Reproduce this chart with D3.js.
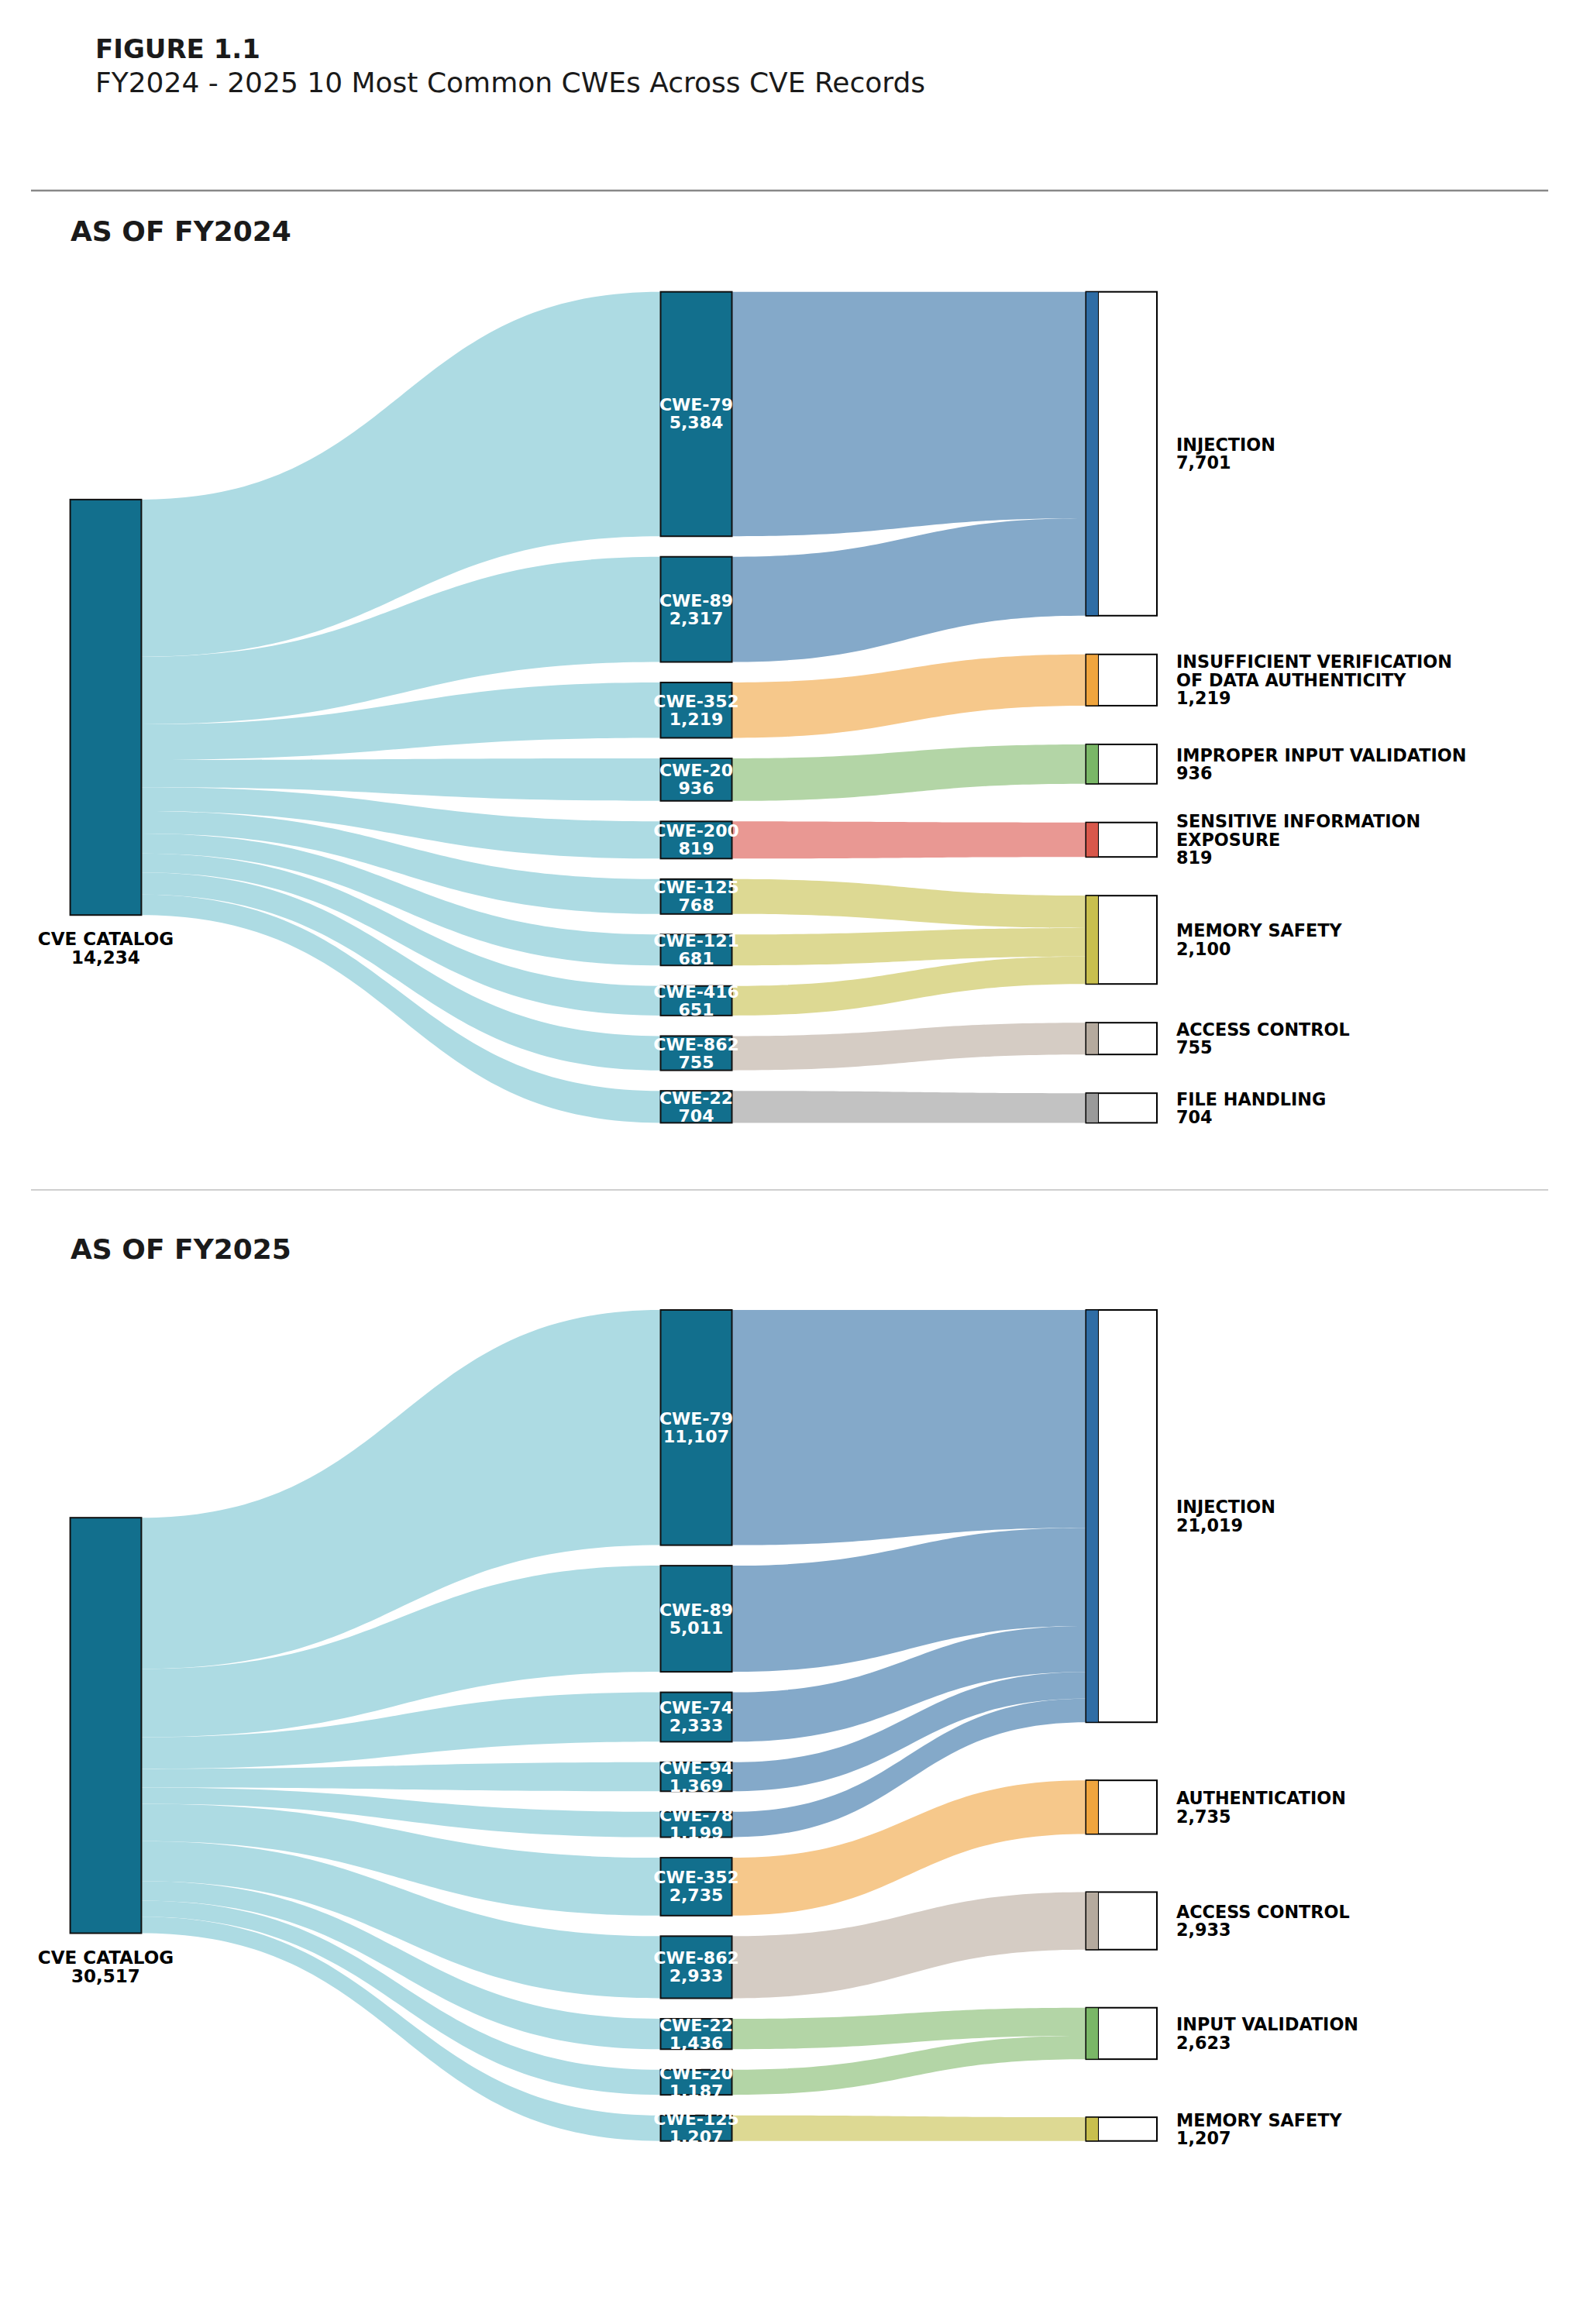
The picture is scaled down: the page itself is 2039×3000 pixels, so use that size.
<!DOCTYPE html>
<html>
<head>
<meta charset="utf-8">
<script src="https://cdn.jsdelivr.net/npm/d3@7/dist/d3.min.js"></script>
<style>
  body { margin: 0; background: #fff; }
  text { font-family: "DejaVu Sans", sans-serif; }
</style>
</head>
<body>
<div id="chart"></div>
<script>
// FY2024 data
const fy24Cwes = ["CWE-79", "CWE-89", "CWE-352", "CWE-20", "CWE-200", "CWE-125", "CWE-121", "CWE-416", "CWE-862", "CWE-22"];
const fy24Counts = [5384, 2317, 1219, 936, 819, 768, 681, 651, 755, 704];
const fy24Groups = ["INJECTION", "INJECTION", "INSUFFICIENT VERIFICATION OF DATA AUTHENTICITY",
  "IMPROPER INPUT VALIDATION", "SENSITIVE INFORMATION EXPOSURE", "MEMORY SAFETY", "MEMORY SAFETY",
  "MEMORY SAFETY", "ACCESS CONTROL", "FILE HANDLING"];

// FY2025 data
const fy25Cwes = ["CWE-79", "CWE-89", "CWE-74", "CWE-94", "CWE-78", "CWE-352", "CWE-862", "CWE-22", "CWE-20", "CWE-125"];
const fy25Counts = [11107, 5011, 2333, 1369, 1199, 2735, 2933, 1436, 1187, 1207];
const fy25Groups = ["INJECTION", "INJECTION", "INJECTION", "INJECTION", "INJECTION", "AUTHENTICATION",
  "ACCESS CONTROL", "INPUT VALIDATION", "INPUT VALIDATION", "MEMORY SAFETY"];

// colour per category: [link, node strip]
const groupColors = {
  "INJECTION": ["#84a9c9", "#2f6da5"],
  "INSUFFICIENT VERIFICATION OF DATA AUTHENTICITY": ["#f6c88b", "#f0a53e"],
  "AUTHENTICATION": ["#f6c88b", "#f0a53e"],
  "IMPROPER INPUT VALIDATION": ["#b3d5a6", "#7ab767"],
  "INPUT VALIDATION": ["#b3d5a6", "#7ab767"],
  "SENSITIVE INFORMATION EXPOSURE": ["#e99893", "#d8584b"],
  "MEMORY SAFETY": ["#ddd993", "#c8bf4e"],
  "ACCESS CONTROL": ["#d5ccc4", "#b5aa9e"],
  "FILE HANDLING": ["#c2c2c2", "#9a9a9a"]
};

const W = 2039, Hpage = 3000;
const svg = d3.select("#chart").append("svg")
  .attr("width", W).attr("height", Hpage);

// header
svg.append("text").attr("x", 123).attr("y", 75)
  .attr("font-size", 34).attr("font-weight", "bold").attr("fill", "#1a1a1a")
  .text("FIGURE 1.1");
svg.append("text").attr("x", 123).attr("y", 119)
  .attr("font-size", 36).attr("fill", "#1a1a1a")
  .text("FY2024 - 2025 10 Most Common CWEs Across CVE Records");
svg.append("line").attr("x1", 40).attr("x2", 1998).attr("y1", 246).attr("y2", 246)
  .attr("stroke", "#888").attr("stroke-width", 2.5);
svg.append("line").attr("x1", 40).attr("x2", 1998).attr("y1", 1536).attr("y2", 1536)
  .attr("stroke", "#cfcfcf").attr("stroke-width", 2);

function wrap(label, maxLen) {
  let words = label.split(" "), lines = [], cur = "";
  words.forEach(w => {
    if (cur && (cur + " " + w).length > maxLen) { lines.push(cur); cur = w; }
    else cur = cur ? cur + " " + w : w;
  });
  lines.push(cur);
  return lines;
}

function linkPath(x0, s0, s1, x1, t0, t1) {
  const xm = (x0 + x1) / 2;
  const p = d3.path();
  p.moveTo(x0, s0);
  p.bezierCurveTo(xm, s0, xm, t0, x1, t0);
  p.lineTo(x1, t1);
  p.bezierCurveTo(xm, t1, xm, s1, x0, s1);
  p.closePath();
  return p.toString();
}

function drawSankey(title, titleY, top, cwes, counts, groups) {
  const g = svg.append("g");
  const H = 1072.7;
  const fmt = d3.format(",");
  const total = d3.sum(counts);

  const colX = { left: [90.6, 182.4], mid: [852.5, 944.5], right: [1401.5, 1493] };

  g.append("text").attr("x", 91).attr("y", titleY)
    .attr("font-size", 36).attr("font-weight", "bold").attr("fill", "#1a1a1a")
    .text(title);

  // categories in order of first appearance
  const cats = Array.from(new Set(groups));
  const catTotals = d3.rollup(counts.map((c, i) => ({ c, g: groups[i] })), v => d3.sum(v, d => d.c), d => d.g);

  // scales per column
  const midPad = 26.5;
  const rightPad = 300 / (cats.length - 1);
  const yLeft = d3.scaleLinear().domain([0, total]).range([0, H / 2]);
  const yMid = d3.scaleLinear().domain([0, total]).range([0, H - midPad * (cwes.length - 1)]);
  const yRight = d3.scaleLinear().domain([0, total]).range([0, H - rightPad * (cats.length - 1)]);

  // node positions
  const leftTop = top + H / 4;
  let y = top;
  const midNodes = cwes.map((c, i) => {
    const n = { name: c, value: counts[i], group: groups[i], y0: y, y1: y + yMid(counts[i]) };
    y = n.y1 + midPad;
    return n;
  });
  y = top;
  const rightNodes = cats.map(c => {
    const v = catTotals.get(c);
    const n = { name: c, value: v, y0: y, y1: y + yRight(v), fill: 0 };
    y = n.y1 + rightPad;
    return n;
  });
  const rightByName = new Map(rightNodes.map(n => [n.name, n]));

  // links left -> mid
  let ly = leftTop;
  midNodes.forEach(n => {
    const h = yLeft(n.value);
    g.append("path")
      .attr("d", linkPath(colX.left[1], ly, ly + h, colX.mid[0], n.y0, n.y1))
      .attr("fill", "#addbe3");
    ly += h;
  });

  // links mid -> right
  midNodes.forEach(n => {
    const r = rightByName.get(n.group);
    const t0 = r.y0 + r.fill, h = yRight(n.value);
    r.fill += h;
    g.append("path")
      .attr("d", linkPath(colX.mid[1], n.y0, n.y1, colX.right[0], t0, t0 + h))
      .attr("fill", groupColors[n.group][0]);
  });

  // left node
  g.append("rect")
    .attr("x", colX.left[0]).attr("y", leftTop)
    .attr("width", colX.left[1] - colX.left[0]).attr("height", yLeft(total))
    .attr("fill", "#126f8d").attr("stroke", "#111").attr("stroke-width", 2);
  const lx = (colX.left[0] + colX.left[1]) / 2;
  const leftLbl = g.append("text").attr("x", lx)
    .attr("y", leftTop + yLeft(total) + 39)
    .attr("text-anchor", "middle").attr("font-size", 23).attr("font-weight", "bold").attr("fill", "#000");
  leftLbl.append("tspan").attr("x", lx).text("CVE CATALOG");
  leftLbl.append("tspan").attr("x", lx).attr("dy", 24).text(fmt(total));

  // mid nodes
  midNodes.forEach(n => {
    g.append("rect")
      .attr("x", colX.mid[0]).attr("y", n.y0)
      .attr("width", colX.mid[1] - colX.mid[0]).attr("height", n.y1 - n.y0)
      .attr("fill", "#126f8d").attr("stroke", "#111").attr("stroke-width", 2);
    const cx = (colX.mid[0] + colX.mid[1]) / 2, cy = (n.y0 + n.y1) / 2;
    const t = g.append("text").attr("text-anchor", "middle")
      .attr("font-size", 22).attr("font-weight", "bold").attr("fill", "#fff");
    t.append("tspan").attr("x", cx).attr("y", cy - 4).text(n.name);
    t.append("tspan").attr("x", cx).attr("y", cy + 19).text(fmt(n.value));
  });

  // right nodes
  rightNodes.forEach(n => {
    g.append("rect")
      .attr("x", colX.right[0]).attr("y", n.y0)
      .attr("width", colX.right[1] - colX.right[0]).attr("height", n.y1 - n.y0)
      .attr("fill", "#fff").attr("stroke", "#000").attr("stroke-width", 2);
    g.append("rect")
      .attr("x", colX.right[0]).attr("y", n.y0)
      .attr("width", 16).attr("height", n.y1 - n.y0)
      .attr("fill", groupColors[n.name][1]).attr("stroke", "#000").attr("stroke-width", 1);
    const lines = wrap(n.name, 25).concat([fmt(n.value)]);
    const cy = (n.y0 + n.y1) / 2;
    const lh = 23.5;
    const t = g.append("text").attr("font-size", 22.3).attr("font-weight", "bold").attr("fill", "#000");
    lines.forEach((l, i) => {
      t.append("tspan").attr("x", 1518)
        .attr("y", cy - (lines.length - 1) * lh / 2 + i * lh + 8).text(l);
    });
  });
}

drawSankey("AS OF FY2024", 311, 376.7, fy24Cwes, fy24Counts, fy24Groups);
drawSankey("AS OF FY2025", 1625, 1691, fy25Cwes, fy25Counts, fy25Groups);
</script>
</body>
</html>
